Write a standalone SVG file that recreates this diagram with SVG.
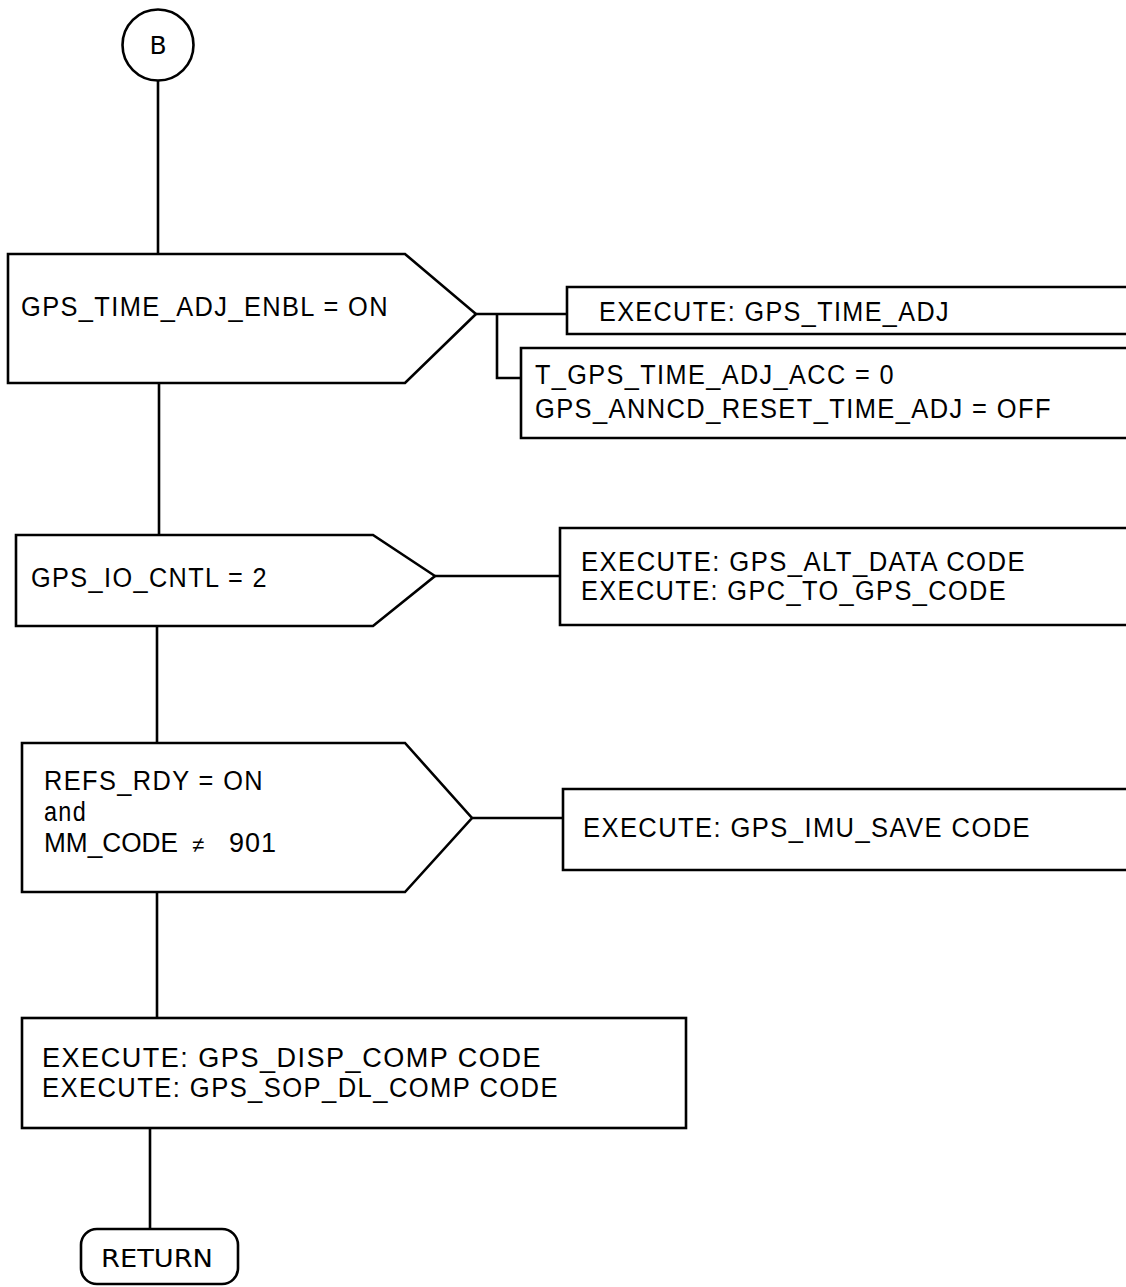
<svg xmlns="http://www.w3.org/2000/svg" width="1126" height="1287" viewBox="0 0 1126 1287">
<style>
.s{fill:#fff;stroke:#000;stroke-width:2.6;stroke-linejoin:miter}
.c{fill:none;stroke:#000;stroke-width:2.6}
.t{font-family:"Liberation Sans",Arial,sans-serif;font-size:27px;fill:#000;letter-spacing:1.5px}
.d{font-family:"DejaVu Sans",Verdana,sans-serif;font-size:25px;fill:#000}
</style>
<rect width="1126" height="1287" fill="#fff"/>
<g id="connectors">
<path class="c" d="M158,81 V254"/>
<path class="c" d="M159,383 V535"/>
<path class="c" d="M157,626 V743"/>
<path class="c" d="M157,892 V1018"/>
<path class="c" d="M150,1128 V1229"/>
<path class="c" d="M476,314 H567"/>
<path class="c" d="M497,314 V378 H521"/>
<path class="c" d="M435,576 H560"/>
<path class="c" d="M472,818 H563"/>
</g>
<g id="start">
<circle class="s" cx="158" cy="45" r="35.5"/>
<text class="d" x="158" y="54" text-anchor="middle">B</text>
</g>
<g id="dec1">
<polygon class="s" points="8,254 405,254 476,314 405,383 8,383"/>
<text class="t" x="21" y="316" textLength="368" lengthAdjust="spacingAndGlyphs">GPS_TIME_ADJ_ENBL = ON</text>
</g>
<g id="box1a">
<path class="s" d="M1126,287 H567 V334 H1126"/>
<text class="t" x="599" y="321" textLength="351" lengthAdjust="spacingAndGlyphs">EXECUTE: GPS_TIME_ADJ</text>
</g>
<g id="box1b">
<path class="s" d="M1126,348 H521 V438 H1126"/>
<text class="t" x="535" y="384" textLength="360" lengthAdjust="spacingAndGlyphs">T_GPS_TIME_ADJ_ACC = 0</text>
<text class="t" x="535" y="418" textLength="517" lengthAdjust="spacingAndGlyphs">GPS_ANNCD_RESET_TIME_ADJ = OFF</text>
</g>
<g id="dec2">
<polygon class="s" points="16,535 373,535 435,576 373,626 16,626"/>
<text class="t" x="31" y="587" textLength="237" lengthAdjust="spacingAndGlyphs">GPS_IO_CNTL = 2</text>
</g>
<g id="box2">
<path class="s" d="M1126,528 H560 V625 H1126"/>
<text class="t" x="581" y="571" textLength="445" lengthAdjust="spacingAndGlyphs">EXECUTE: GPS_ALT_DATA CODE</text>
<text class="t" x="581" y="600" textLength="426" lengthAdjust="spacingAndGlyphs">EXECUTE: GPC_TO_GPS_CODE</text>
</g>
<g id="dec3">
<polygon class="s" points="22,743 405,743 472,818 405,892 22,892"/>
<text class="t" x="44" y="790" textLength="220" lengthAdjust="spacingAndGlyphs">REFS_RDY = ON</text>
<text class="t" x="44" y="821" textLength="43" lengthAdjust="spacingAndGlyphs">and</text>
<text class="t" x="44" y="852"><tspan style="letter-spacing:0" textLength="134" lengthAdjust="spacingAndGlyphs">MM_CODE</tspan><tspan x="192" style="font-size:22px;letter-spacing:0">≠</tspan><tspan x="229" style="letter-spacing:1px">901</tspan></text>
</g>
<g id="box3">
<path class="s" d="M1126,789 H563 V870 H1126"/>
<text class="t" x="583" y="837" textLength="448" lengthAdjust="spacingAndGlyphs">EXECUTE: GPS_IMU_SAVE CODE</text>
</g>
<g id="proc">
<rect class="s" x="22" y="1018" width="664" height="110"/>
<text class="t" x="42" y="1067" textLength="500" lengthAdjust="spacingAndGlyphs">EXECUTE: GPS_DISP_COMP CODE</text>
<text class="t" x="42" y="1097" textLength="517" lengthAdjust="spacingAndGlyphs">EXECUTE: GPS_SOP_DL_COMP CODE</text>
</g>
<g id="return">
<rect class="s" x="81" y="1229" width="157" height="55" rx="16" ry="16"/>
<text class="d" x="101" y="1267" textLength="112" lengthAdjust="spacingAndGlyphs">RETURN</text>
</g>
</svg>
